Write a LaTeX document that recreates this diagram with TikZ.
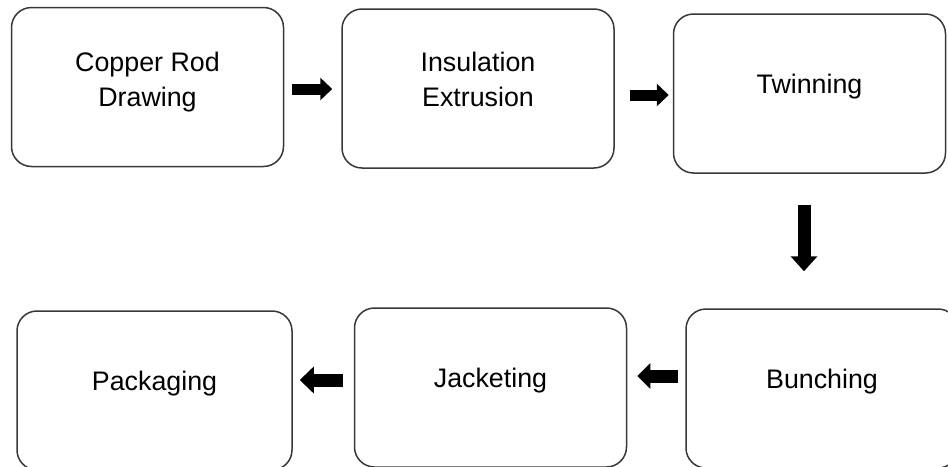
\documentclass[tikz,border=0pt]{standalone}
\usepackage{fontspec}
\setmainfont{Liberation Sans}
\usetikzlibrary{arrows.meta}

\tikzset{
  stage/.style={draw=black!78, line width=1.5pt, rounded corners=20pt,
    minimum width=272pt, minimum height=159pt, inner sep=0pt, align=center,
    font=\fontsize{26.8}{35}\selectfont, text height=0pt, text depth=0pt},
  fat/.style={line width=11pt, -{Triangle[width=22pt,length=12pt]}}
}

\begin{document}
\begin{tikzpicture}[x=1pt, y=-1pt]
\useasboundingbox (0,0) rectangle (948,466);
\node[stage, text height=38pt] (rod) at (147.5, 87) {Copper Rod\\Drawing};
\node[stage, text height=35pt] (ins) at (478, 88.5) {Insulation\\Extrusion};
\node[stage] (twin) at (809.5, 93.5) {Twinning};
\node[stage] (bunch) at (822, 388.5) {Bunching};
\node[stage] (jack) at (490.5, 387.5) {Jacketing};
\node[stage, minimum width=275pt] (pack) at (154.5, 390.5) {Packaging};
\draw[fat] ([shift={(8,2)}]rod.east) -- ([shift={(-9,0.5)}]ins.west);
\draw[fat] ([shift={(15,6.5)}]ins.east) -- ([shift={(-4,1.5)}]twin.west);
\draw[fat, line width=13pt, -{Triangle[width=26pt,length=15pt]}] ([shift={(-5.5,31)}]twin.south) -- ([shift={(-18,-37)}]bunch.north);
\draw[fat, line width=13pt, -{Triangle[width=25pt,length=13pt]}] ([shift={(-7,-12.5)}]bunch.west) -- ([shift={(10,-11.5)}]jack.east);
\draw[fat, line width=13pt, -{Triangle[width=26pt,length=14pt]}] ([shift={(-11,-7.5)}]jack.west) -- ([shift={(7,-10.5)}]pack.east);
\end{tikzpicture}
\end{document}
